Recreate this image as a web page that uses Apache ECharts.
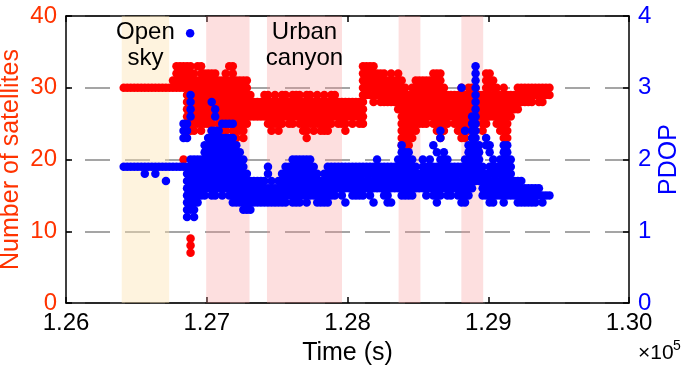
<!DOCTYPE html>
<html>
<head>
<meta charset="utf-8">
<script src="https://cdn.jsdelivr.net/npm/echarts@6/dist/echarts.min.js"></script>
<style>
  html, body { margin: 0; padding: 0; background: #fff; }
  #chart { width: 685px; height: 369px; }
</style>
</head>
<body>
<div id="chart"></div>
<script>
// time stamps (x 10^5 s), one column of samples per entry
const time = [
  1.26410, 1.26435, 1.26460, 1.26485, 1.26510, 1.26535, 1.26560, 1.26585, 1.26610, 1.26635,
  1.26660, 1.26685, 1.26710, 1.26735, 1.26760, 1.26785, 1.26810, 1.26835, 1.26860, 1.26885,
  1.26910, 1.26935, 1.26960, 1.26985, 1.27010, 1.27035, 1.27060, 1.27085, 1.27110, 1.27135,
  1.27160, 1.27185, 1.27210, 1.27235, 1.27260, 1.27285, 1.27310, 1.27335, 1.27360, 1.27385,
  1.27410, 1.27435, 1.27460, 1.27485, 1.27510, 1.27535, 1.27560, 1.27585, 1.27610, 1.27635,
  1.27660, 1.27685, 1.27710, 1.27735, 1.27760, 1.27785, 1.27810, 1.27835, 1.27860, 1.27885,
  1.27910, 1.27935, 1.27960, 1.27985, 1.28010, 1.28035, 1.28060, 1.28085, 1.28110, 1.28135,
  1.28160, 1.28185, 1.28210, 1.28235, 1.28260, 1.28285, 1.28310, 1.28335, 1.28360, 1.28385,
  1.28410, 1.28435, 1.28460, 1.28485, 1.28510, 1.28535, 1.28560, 1.28585, 1.28610, 1.28635,
  1.28660, 1.28685, 1.28710, 1.28735, 1.28760, 1.28785, 1.28810, 1.28835, 1.28860, 1.28885,
  1.28910, 1.28935, 1.28960, 1.28985, 1.29010, 1.29035, 1.29060, 1.29085, 1.29110, 1.29135,
  1.29160, 1.29185, 1.29210, 1.29235, 1.29260, 1.29285, 1.29310, 1.29335, 1.29360, 1.29385,
  1.29410, 1.29435
];

// number of satellites seen in each time column
const sats = [
  [30], [30], [30], [30], [30], [30], [30], [30], [30], [30],
  [30], [30], [30], [30], [30, 31], [30, 31, 32, 33], [30, 31, 32, 33], [20, 30, 31, 32, 33],
  [24, 25, 26, 27, 28, 29, 30, 31, 32, 33],
  [7, 8, 9, 14, 24, 25, 26, 27, 28, 29, 30, 31, 32, 33],
  [24, 25, 26, 27, 28, 29, 30, 31, 32],
  [25, 26, 27, 28, 29, 30, 31, 33],
  [24, 25, 26, 27, 28, 29, 30, 31, 32, 33],
  [25, 26, 27, 28, 29, 30, 31, 32],
  [25, 26, 27, 28, 29, 30, 31, 32],
  [24, 25, 26, 27, 28, 29, 30, 31, 32],
  [24, 26, 27, 28, 29, 30, 31, 32],
  [25, 26, 27, 28, 29, 30, 31],
  [23, 24, 25, 26, 27, 28, 29, 30, 31],
  [24, 25, 26, 27, 28, 29, 30, 31, 32],
  [25, 26, 27, 28, 29, 30, 31, 33],
  [24, 25, 26, 27, 28, 29, 30, 31, 32, 33],
  [23, 24, 25, 26, 27, 28, 29, 30, 31],
  [24, 25, 26, 27, 28, 29, 30, 31],
  [23, 24, 25, 26, 27, 28, 29, 30, 31],
  [25, 26, 27, 28, 29, 30, 31],
  [26, 27, 28, 29], [26, 27, 28], [26, 27, 28], [26, 27, 28], [26, 27, 28, 29],
  [25, 26, 27, 28, 29], [24, 25, 26, 27, 28], [25, 26, 27, 28, 29], [24, 25, 26, 27, 28],
  [25, 26, 27, 28, 29], [26, 27, 28, 29], [25, 26, 27, 28], [25, 26, 27, 28, 29],
  [26, 27, 28, 29], [25, 26, 27, 28, 29], [24, 25, 26, 27, 28], [23, 24, 25, 26, 27, 28, 29],
  [25, 26, 27, 28, 29], [24, 25, 26, 27, 28], [25, 26, 27, 28, 29], [24, 25, 26, 27, 28],
  [24, 25, 26, 27, 28, 29], [24, 25, 26, 27, 28], [25, 26, 27, 28, 29], [26, 27, 28, 29],
  [25, 26, 27, 28], [25, 26, 27, 28], [24, 25, 26, 27, 28], [26, 27, 28], [25, 26, 27, 28],
  [26, 27, 28], [25, 26, 27, 28],
  [25, 26, 27, 28, 29, 30, 31, 32, 33],
  [29, 30, 31, 32, 33], [29, 30, 31, 32, 33], [28, 29, 30, 31, 32, 33], [29, 30, 31, 32],
  [28, 29, 30, 31, 32], [28, 29, 30, 31, 32], [28, 29, 30, 31], [28, 29, 30, 31, 32],
  [28, 29, 30, 31], [27, 28, 29, 30, 31, 32],
  [22, 23, 24, 25, 26, 27, 28, 29, 30, 31],
  [21, 22, 23, 24, 25, 26, 27, 28, 29, 30],
  [22, 23, 24, 25, 26, 27, 28, 29],
  [23, 24, 25, 26, 27, 28, 29, 30],
  [24, 25, 26, 27, 28, 29, 30, 31],
  [25, 26, 27, 28, 29, 30, 31], [25, 26, 27, 28, 29, 30, 31], [25, 26, 27, 28, 29, 30, 31],
  [26, 27, 28, 29, 30, 31], [25, 26, 27, 28, 29, 30, 31, 32],
  [24, 25, 26, 27, 28, 29, 30, 31, 32], [23, 24, 25, 26, 27, 28, 29, 30, 31, 32],
  [24, 25, 26, 27, 28, 29, 30], [25, 26, 27, 28, 29], [26, 27, 28, 29], [25, 26, 27, 28, 29],
  [24, 25, 26, 27, 28, 29], [23, 24, 25, 26, 27, 28, 29, 30], [23, 24, 25, 26, 27, 28, 29],
  [24, 25, 26, 27, 28, 29, 30], [25, 26, 27, 28, 29, 30], [25, 26, 27, 28, 29, 30],
  [26, 27, 28, 29], [24, 25, 26, 27, 28, 29], [25, 26, 27, 28, 29, 30, 31, 32],
  [26, 27, 28, 29, 30, 31, 32], [26, 27, 28, 29, 30, 31], [25, 26, 27, 28, 29, 30],
  [24, 25, 26, 27, 28, 29], [23, 24, 25, 26, 27, 28, 29, 30], [23, 24, 25, 26, 27, 28, 29],
  [26, 27, 28, 29], [27, 28, 29], [27, 28, 29, 30], [28, 29, 30], [28, 29, 30], [28, 29, 30],
  [28, 29, 30], [29, 30], [28, 29, 30], [28, 29, 30], [29, 30], [29, 30]
];

// PDOP in each time column
const pdop = [
  [1.9], [1.9], [1.9], [1.9], [1.9], [1.9], [1.8, 1.9], [1.9], [1.9], [1.8, 1.9],
  [1.9], [1.9], [1.7, 1.9], [1.9], [1.9], [1.9], [1.9], [1.9, 2.3, 2.4, 2.5],
  [1.2, 1.3, 1.4, 1.5, 1.6, 1.7, 1.8, 1.9, 2.3, 2.4, 2.5],
  [1.3, 1.4, 1.5, 1.6, 1.7, 1.8, 1.9, 2.0, 2.6, 2.7, 2.8, 2.9],
  [1.2, 1.3, 1.4, 1.5, 1.6, 1.7, 1.8, 1.9, 2.0],
  [1.4, 1.5, 1.6, 1.7, 1.8, 1.9, 2.0],
  [1.5, 1.6, 1.7, 1.8, 1.9, 2.0],
  [1.5, 1.6, 1.7, 1.8, 1.9, 2.0, 2.1, 2.2],
  [1.6, 1.7, 1.8, 1.9, 2.0, 2.1, 2.2, 2.3],
  [1.5, 1.6, 1.7, 1.8, 1.9, 2.0, 2.1, 2.2, 2.3, 2.4, 2.8],
  [1.5, 1.6, 1.7, 1.8, 1.9, 2.0, 2.1, 2.2, 2.3, 2.4, 2.6, 2.7],
  [1.6, 1.7, 1.8, 1.9, 2.0, 2.1, 2.2, 2.3, 2.4],
  [1.5, 1.6, 1.7, 1.8, 1.9, 2.0, 2.1, 2.2, 2.3, 2.5],
  [1.6, 1.7, 1.8, 1.9, 2.0, 2.1, 2.2, 2.3, 2.5],
  [1.5, 1.6, 1.7, 1.8, 1.9, 2.0, 2.1, 2.2, 2.3, 2.5],
  [1.4, 1.5, 1.6, 1.7, 1.8, 1.9, 2.0, 2.1, 2.2, 2.3, 2.5],
  [1.4, 1.5, 1.6, 1.7, 1.8, 1.9, 2.0, 2.1, 2.2],
  [1.4, 1.5, 1.6, 1.7, 1.8, 1.9, 2.0, 2.1],
  [1.3, 1.4, 1.5, 1.6, 1.7, 1.8, 1.9, 2.0],
  [1.3, 1.4, 1.5, 1.6, 1.7, 1.8],
  [1.3, 1.4, 1.5, 1.6, 1.7],
  [1.4, 1.5, 1.6, 1.7], [1.4, 1.5, 1.6, 1.7], [1.4, 1.5, 1.6, 1.7], [1.4, 1.5, 1.6, 1.7],
  [1.4, 1.5, 1.6, 1.8, 1.9], [1.4, 1.5, 1.6, 1.7], [1.4, 1.5, 1.6], [1.4, 1.5, 1.6, 1.7],
  [1.4, 1.5, 1.6, 1.7, 1.8], [1.4, 1.5, 1.6, 1.7, 1.8, 1.9], [1.5, 1.6, 1.7, 1.8, 1.9],
  [1.4, 1.5, 1.6, 1.7, 1.8, 1.9, 2.0], [1.4, 1.5, 1.6, 1.7, 1.8, 1.9, 2.0],
  [1.4, 1.5, 1.6, 1.7, 1.8, 1.9, 2.0], [1.5, 1.6, 1.7, 1.8, 1.9, 2.0],
  [1.4, 1.5, 1.6, 1.7, 1.8, 1.9, 2.0], [1.5, 1.6, 1.7, 1.8, 1.9, 2.0],
  [1.5, 1.6, 1.7, 1.8, 1.9], [1.4, 1.5, 1.6, 1.7, 1.8], [1.4, 1.5, 1.6, 1.7],
  [1.4, 1.5, 1.6, 1.7, 1.8], [1.4, 1.5, 1.6, 1.7, 1.8, 1.9], [1.5, 1.6, 1.7, 1.8, 1.9],
  [1.5, 1.6, 1.7, 1.8, 1.9], [1.6, 1.7, 1.8, 1.9], [1.5, 1.6, 1.7, 1.8, 1.9],
  [1.4, 1.6, 1.7, 1.8, 1.9], [1.6, 1.7, 1.8, 1.9], [1.5, 1.6, 1.7, 1.8, 1.9],
  [1.5, 1.6, 1.7, 1.8, 1.9], [1.5, 1.6, 1.7, 1.8, 1.9], [1.5, 1.6, 1.7, 1.8, 1.9],
  [1.6, 1.7, 1.8, 1.9], [1.5, 1.6, 1.7, 1.8, 1.9], [1.4, 1.6, 1.7, 1.8, 1.9],
  [1.6, 1.7, 1.8, 1.9, 2.0], [1.6, 1.7, 1.8, 1.9], [1.5, 1.6, 1.7, 1.8, 1.9],
  [1.4, 1.5, 1.6, 1.7, 1.8, 1.9], [1.4, 1.6, 1.7, 1.8, 1.9], [1.6, 1.7, 1.8, 1.9],
  [1.6, 1.7, 1.8, 1.9, 2.0],
  [1.5, 1.6, 1.7, 1.8, 1.9, 2.0, 2.1, 2.2], [1.5, 1.6, 1.7, 1.8, 1.9, 2.0, 2.1],
  [1.5, 1.6, 1.7, 1.8, 1.9, 2.0, 2.1], [1.5, 1.6, 1.7, 1.8, 1.9, 2.0],
  [1.6, 1.7, 1.8, 1.9], [1.6, 1.7, 1.8], [1.6, 1.7, 1.8, 1.9, 2.0], [1.5, 1.6, 1.7, 1.8, 1.9],
  [1.6, 1.7, 1.8, 1.9, 2.0], [1.5, 1.6, 1.7, 1.8, 1.9, 2.2], [1.4, 1.5, 1.6, 1.7, 1.8, 1.9, 2.1],
  [1.5, 1.6, 1.7, 1.8, 1.9, 2.0, 2.3, 2.4], [1.6, 1.7, 1.8, 1.9, 2.0, 2.1],
  [1.5, 1.6, 1.7, 1.8, 1.9, 2.0], [1.5, 1.6, 1.7, 1.8, 1.9], [1.6, 1.7, 1.8, 1.9],
  [1.5, 1.6, 1.7, 1.8, 1.9], [1.4, 1.5, 1.6, 1.7, 1.8, 1.9, 3.0],
  [1.4, 1.5, 1.6, 1.7, 1.8, 1.9, 2.0, 2.4], [1.5, 1.6, 1.7, 1.8, 1.9, 2.0, 2.1, 2.2],
  [1.6, 1.7, 1.8, 1.9, 2.0, 2.1, 2.2, 2.3, 2.4, 2.5, 2.6],
  [1.7, 1.8, 1.9, 2.0, 2.1, 2.2, 2.3, 2.4, 2.5, 2.6, 2.7, 2.8, 2.9, 3.0, 3.1, 3.2, 3.3],
  [1.7, 1.8, 1.9, 2.0, 2.1, 2.2], [1.5, 1.6, 1.7, 1.8, 1.9], [1.5, 1.6, 1.7, 1.8, 2.2, 2.3],
  [1.4, 1.5, 1.6, 1.7, 1.8, 1.9, 2.1, 2.2], [1.4, 1.5, 1.6, 1.7, 1.8, 1.9, 2.0],
  [1.5, 1.6, 1.7, 1.8, 1.9], [1.5, 1.6, 1.7, 1.8, 1.9, 2.0],
  [1.4, 1.5, 1.6, 1.7, 1.8, 1.9, 2.0, 2.1, 2.2], [1.5, 1.6, 1.7, 1.8, 1.9, 2.0, 2.1, 2.2],
  [1.5, 1.6, 1.7, 1.8, 1.9, 2.0], [1.5, 1.6, 1.7], [1.4, 1.5, 1.6, 1.7], [1.4, 1.5, 1.6, 1.7],
  [1.4, 1.5, 1.6], [1.4, 1.5, 1.6], [1.4, 1.5, 1.6], [1.4, 1.5, 1.6], [1.5, 1.6], [1.4, 1.5],
  [1.5], [1.5]
];

// lone PDOP outlier near the top
const pdopExtra = [[1.26882, 3.76]];

// shaded environments [from, to]
const zones = [
  { label: 'Open\nsky', from: 1.26396, to: 1.26733, color: 'rgba(253,226,176,0.42)' },
  { label: '', from: 1.26996, to: 1.27304, color: 'rgba(250,150,150,0.30)' },
  { label: 'Urban\ncanyon', from: 1.27428, to: 1.27961, color: 'rgba(250,150,150,0.30)' },
  { label: '', from: 1.28363, to: 1.28518, color: 'rgba(250,150,150,0.30)' },
  { label: '', from: 1.28809, to: 1.28964, color: 'rgba(250,150,150,0.30)' }
];

const xLabels = ['1.26', '1.27', '1.28', '1.29', '1.30'];
const satTicks = [0, 10, 20, 30, 40];
const pdopTicks = [0, 1, 2, 3, 4];

let satPoints = [];
let pdopPoints = [];
time.forEach((t, i) => {
  sats[i].forEach(v => satPoints.push([t, v]));
  pdop[i].forEach(v => pdopPoints.push([t, v]));
});
pdopPoints = pdopPoints.concat(pdopExtra);

const font = 'Liberation Sans, Arial, Helvetica, sans-serif';
const satColor = '#ff3300';
const pdopColor = '#0000ff';
const axisLine = { show: true, onZero: false, lineStyle: { color: '#000', width: 1.5 } };
const axisTick = { show: true, inside: true, length: 6, lineStyle: { color: '#000', width: 1.5 } };

let chart = echarts.init(document.getElementById('chart'));
chart.setOption({
  animation: false,
  textStyle: { fontFamily: font },
  // the x10^5 multiplier under the right end of the time axis
  title: [
    {
      text: '×10', left: 638, top: 343, padding: 0,
      textStyle: { fontSize: 21, fontWeight: 'normal', color: '#000', fontFamily: font }
    },
    {
      text: '5', left: 673, top: 339, padding: 0,
      textStyle: { fontSize: 14, fontWeight: 'normal', color: '#000', fontFamily: font }
    }
  ],
  grid: { left: 66, right: 56, top: 16, bottom: 66, outerBoundsMode: 'none', containLabel: false },
  xAxis: [
    {
      type: 'value', min: 1.26, max: 1.30, interval: 0.01, position: 'bottom',
      name: 'Time (s)', nameLocation: 'middle', nameGap: 38, nameMoveOverlap: false,
      nameTextStyle: { color: '#000', fontSize: 25, fontFamily: font },
      axisLine: axisLine,
      axisTick: axisTick,
      axisLabel: {
        color: '#000', fontSize: 24, margin: 8, fontFamily: font,
        formatter: v => xLabels[Math.round((v - 1.26) * 100)]
      },
      splitLine: { show: false }
    },
    {
      type: 'value', min: 1.26, max: 1.30, interval: 0.01, position: 'top',
      axisLine: axisLine,
      axisTick: axisTick,
      axisLabel: { show: false },
      splitLine: { show: false }
    }
  ],
  yAxis: [
    {
      type: 'value', min: 0, max: 40, interval: 10, position: 'left',
      name: 'Number of satellites', nameLocation: 'middle', nameGap: 42, nameMoveOverlap: false,
      nameTextStyle: { color: satColor, fontSize: 25, fontFamily: font },
      axisLine: axisLine,
      axisTick: axisTick,
      axisLabel: {
        color: satColor, fontSize: 24, margin: 9, fontFamily: font,
        formatter: v => String(satTicks[Math.round(v / 10)])
      },
      splitLine: {
        show: true,
        lineStyle: { color: '#888', width: 1.5, type: [25, 15], dashOffset: 21 }
      }
    },
    {
      type: 'value', min: 0, max: 4, interval: 1, position: 'right',
      name: 'PDOP', nameLocation: 'middle', nameGap: 28, nameMoveOverlap: false,
      nameTextStyle: { color: pdopColor, fontSize: 25, fontFamily: font },
      axisLine: axisLine,
      axisTick: axisTick,
      axisLabel: {
        color: pdopColor, fontSize: 24, margin: 9, fontFamily: font,
        formatter: v => String(pdopTicks[Math.round(v)])
      },
      splitLine: { show: false }
    }
  ],
  series: [
    {
      name: 'satellites', type: 'scatter', yAxisIndex: 0, z: 2,
      symbolSize: 8.5, data: satPoints,
      itemStyle: { color: '#ff0000', opacity: 1 }
    },
    {
      name: 'PDOP', type: 'scatter', yAxisIndex: 1, z: 3,
      symbolSize: 8.5, data: pdopPoints,
      itemStyle: { color: '#0000ff', opacity: 1 }
    },
    {
      name: 'zones', type: 'scatter', yAxisIndex: 0, z: 10, data: [], silent: true,
      markArea: {
        silent: true,
        data: zones.map(z => [
          {
            xAxis: z.from,
            itemStyle: { color: z.color },
            label: {
              show: z.label !== '', position: 'insideTop', distance: 3,
              color: '#000', fontSize: 24, lineHeight: 26, fontFamily: font,
              formatter: z.label
            }
          },
          { xAxis: z.to }
        ])
      }
    }
  ]
});
</script>
</body>
</html>
